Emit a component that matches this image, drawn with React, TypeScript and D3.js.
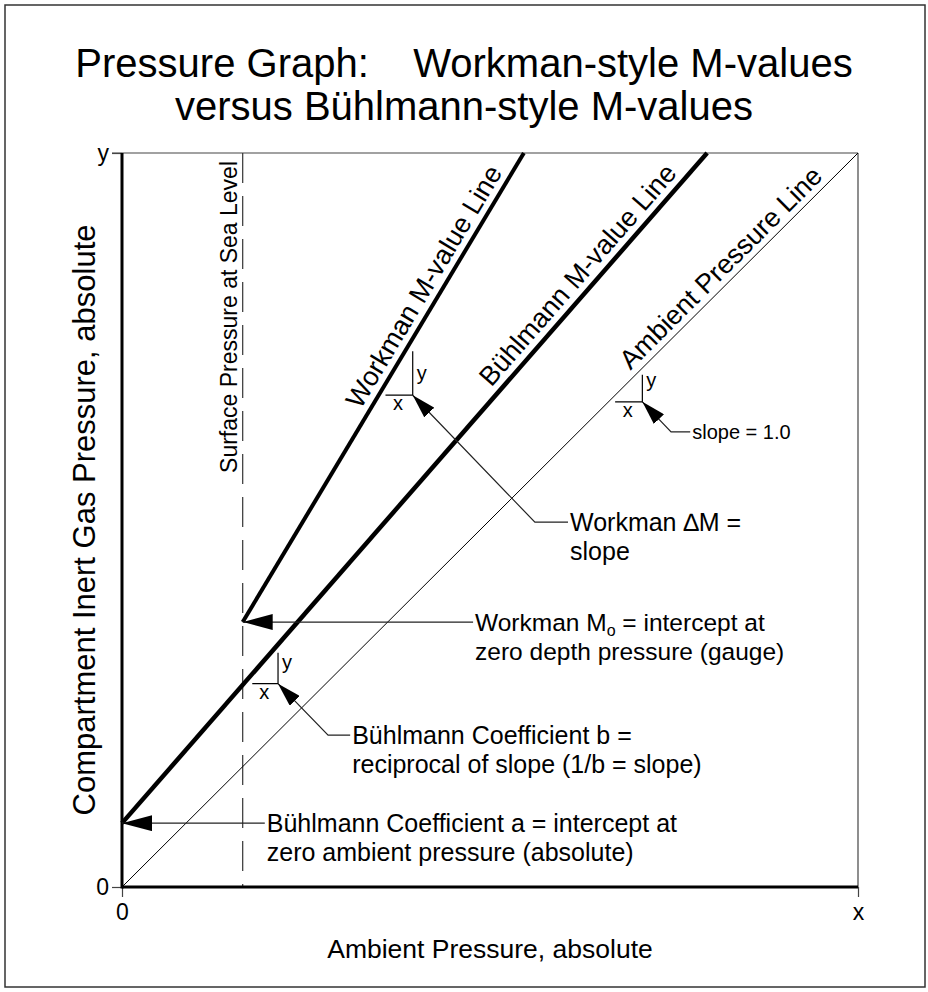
import React, { useEffect, useRef } from "react";
import * as d3 from "d3";

// axis extents (arbitrary pressure units)
const xDomain = [0, 10];
const yDomain = [0, 10];
const xTicks = [0, 10];
const xTickLabels = ["0", "x"];
const yTicks = [0, 10];
const yTickLabels = ["0", "y"];

// surface pressure at sea level (ambient, absolute)
const surfacePressure = 1.64;

// M-value lines, [ambient, compartment]
const workmanLine = [[1.64, 3.61], [5.46, 10]];
const buhlmannLine = [[0, 0.87], [7.95, 10]];
const ambientLine = [[0, 0], [10, 10]];

const lineNames = ["Workman M-value Line", "Bühlmann M-value Line", "Ambient Pressure Line"];
const lineWidths = [4, 4.5, 1];
const labelEndY = [9.68, 9.64, 9.6];

// slope triangles: corner, run, rise
const slopeCorners = [[3.95, 6.7], [2.12, 2.77], [7.07, 6.61]];
const slopeRuns = [0.37, 0.35, 0.37];
const slopeRises = [0.6, 0.42, 0.37];

// callouts: leader points from text end to arrow tip
const calloutPaths = [
  [[6.06, 4.97], [5.61, 4.97], [3.95, 6.7]],
  [[4.77, 3.61], [1.64, 3.61]],
  [[3.1, 2.07], [2.8, 2.07], [2.12, 2.77]],
  [[1.94, 0.87], [0, 0.87]],
  [[7.72, 6.2], [7.46, 6.2], [7.07, 6.61]],
];
const calloutText = [
  ["Workman \u2206M =", "slope"],
  ["Workman M|o| = intercept at", "zero depth pressure (gauge)"],
  ["Bühlmann Coefficient b =", "reciprocal of slope (1/b = slope)"],
  ["Bühlmann Coefficient a = intercept at", "zero ambient pressure (absolute)"],
  ["slope = 1.0"],
];
const calloutFont = [25, 24.5, 25, 25, 20];

const FONT = "'Liberation Sans', Arial, sans-serif";

function Chart() {
  const ref = useRef<SVGSVGElement>(null);

  useEffect(() => {
    const svg = d3.select(ref.current);
    svg.selectAll("*").remove();

    const x = d3.scaleLinear().domain(xDomain).range([122, 858]);
    const y = d3.scaleLinear().domain(yDomain).range([887, 153]);

    svg.attr("font-family", FONT);

    // outer frame
    svg.append("rect")
      .attr("x", 5).attr("y", 5).attr("width", 920).attr("height", 982)
      .attr("fill", "white").attr("stroke", "#333").attr("stroke-width", 1.5);

    // title
    const title = ["Pressure Graph:\u00a0\u00a0\u00a0 Workman-style M-values", "versus Bühlmann-style M-values"];
    svg.append("text")
      .attr("x", 464).attr("y", 77)
      .attr("text-anchor", "middle").attr("font-size", 40)
      .selectAll("tspan").data(title).join("tspan")
      .attr("x", 464).attr("dy", (d, i) => (i === 0 ? 0 : 43))
      .text(d => d);

    const defs = svg.append("defs");
    defs.append("marker")
      .attr("id", "arrowH").attr("viewBox", "0 0 30 16")
      .attr("refX", 30).attr("refY", 8)
      .attr("markerWidth", 30).attr("markerHeight", 16)
      .attr("markerUnits", "userSpaceOnUse").attr("orient", "auto")
      .append("path").attr("d", "M0,0L30,8L0,16Z").attr("fill", "black");
    defs.append("marker")
      .attr("id", "arrowD").attr("viewBox", "0 0 24 14")
      .attr("refX", 24).attr("refY", 7)
      .attr("markerWidth", 24).attr("markerHeight", 14)
      .attr("markerUnits", "userSpaceOnUse").attr("orient", "auto")
      .append("path").attr("d", "M0,0L24,7L0,14Z").attr("fill", "black");

    // plot frame (top + right, thin)
    svg.append("line")
      .attr("x1", x(0) - 10).attr("x2", x(10)).attr("y1", y(10)).attr("y2", y(10))
      .attr("stroke", "#444").attr("stroke-width", 1.2);
    svg.append("line")
      .attr("x1", x(10)).attr("x2", x(10)).attr("y1", y(10)).attr("y2", y(0))
      .attr("stroke", "#444").attr("stroke-width", 1.2);

    // axes ticks + labels
    const xAxis = svg.append("g")
      .attr("transform", `translate(0,${y(0)})`)
      .call(d3.axisBottom(x).tickValues(xTicks).tickSize(10).tickPadding(7)
        .tickFormat((d, i) => xTickLabels[i]));
    const yAxis = svg.append("g")
      .attr("transform", `translate(${x(0)},0)`)
      .call(d3.axisLeft(y).tickValues(yTicks).tickSize(10).tickPadding(3)
        .tickFormat((d, i) => yTickLabels[i]));
    [xAxis, yAxis].forEach(g => {
      g.select(".domain").remove();
      g.selectAll("line").attr("stroke", "#444").attr("stroke-width", 1.2);
      g.selectAll("text").attr("font-size", 23).attr("font-family", FONT).attr("fill", "black");
    });

    // surface pressure dashed line
    svg.append("line")
      .attr("x1", x(surfacePressure)).attr("x2", x(surfacePressure))
      .attr("y1", y(10)).attr("y2", y(0))
      .attr("stroke", "#333").attr("stroke-width", 1.2)
      .attr("stroke-dasharray", "30 13");

    svg.append("text")
      .attr("transform", `translate(${x(surfacePressure) - 6},${y(10) + 8}) rotate(-90)`)
      .attr("text-anchor", "end").attr("font-size", 23)
      .text("Surface Pressure at Sea Level");

    // main lines
    const line = d3.line().x(d => x(d[0])).y(d => y(d[1]));
    const series = [workmanLine, buhlmannLine, ambientLine];
    series.forEach((pts, i) => {
      svg.append("path")
        .attr("d", line(pts as [number, number][]))
        .attr("fill", "none").attr("stroke", "black")
        .attr("stroke-width", lineWidths[i]);

      const [p0, p1] = pts;
      const px0 = x(p0[0]), py0 = y(p0[1]), px1 = x(p1[0]), py1 = y(p1[1]);
      const len = Math.hypot(px1 - px0, py1 - py0);
      const ux = (px1 - px0) / len, uy = (py1 - py0) / len;
      const angle = (Math.atan2(py1 - py0, px1 - px0) * 180) / Math.PI;
      const yd = labelEndY[i];
      const xd = p0[0] + ((yd - p0[1]) * (p1[0] - p0[0])) / (p1[1] - p0[1]);
      const off = 6 + lineWidths[i] / 2;
      const tx = x(xd) + uy * off, ty = y(yd) - ux * off;
      svg.append("text")
        .attr("transform", `translate(${tx},${ty}) rotate(${angle})`)
        .attr("text-anchor", "end").attr("font-size", 27)
        .text(lineNames[i]);
    });

    // axes (thick)
    svg.append("line")
      .attr("x1", x(0)).attr("x2", x(0)).attr("y1", y(10)).attr("y2", y(0) + 1.5)
      .attr("stroke", "black").attr("stroke-width", 3);
    svg.append("line")
      .attr("x1", x(0)).attr("x2", x(10)).attr("y1", y(0)).attr("y2", y(0))
      .attr("stroke", "black").attr("stroke-width", 3);

    // slope triangles
    slopeCorners.forEach((c, i) => {
      const cx = x(c[0]), cy = y(c[1]);
      const lx = x(c[0] - slopeRuns[i]), ty = y(c[1] + slopeRises[i]);
      svg.append("path")
        .attr("d", `M${lx},${cy}L${cx},${cy}L${cx},${ty}`)
        .attr("fill", "none").attr("stroke", "black").attr("stroke-width", 1.2);
      svg.append("text")
        .attr("x", (lx + cx) / 2 - 1).attr("y", cy + 15)
        .attr("text-anchor", "middle").attr("font-size", 20).text("x");
      svg.append("text")
        .attr("x", cx + 4).attr("y", cy - 15)
        .attr("font-size", 20).text("y");
    });

    // callouts
    calloutPaths.forEach((pts, i) => {
      const horizontal = pts.length === 2;
      svg.append("path")
        .attr("d", line(pts as [number, number][]))
        .attr("fill", "none").attr("stroke", "#222").attr("stroke-width", 1.2)
        .attr("marker-end", horizontal ? "url(#arrowH)" : "url(#arrowD)");
      const sx = x(pts[0][0]) + 2, sy = y(pts[0][1]);
      const fs = calloutFont[i];
      const t = svg.append("text")
        .attr("x", sx).attr("y", sy + fs * 0.37)
        .attr("font-size", fs);
      calloutText[i].forEach((ln, j) => {
        const parts = ln.split("|");
        t.append("tspan")
          .attr("x", sx).attr("dy", j === 0 ? 0 : 29)
          .text(parts[0]);
        if (parts.length > 1) {
          t.append("tspan").attr("font-size", 16).attr("dy", 5).text(parts[1]);
          t.append("tspan").attr("dy", -5).text(parts[2]);
        }
      });
    });

    // axis titles
    svg.append("text")
      .attr("transform", `translate(95,${(y(0) + y(10)) / 2}) rotate(-90)`)
      .attr("text-anchor", "middle").attr("font-size", 31)
      .text("Compartment Inert Gas Pressure, absolute");
    svg.append("text")
      .attr("x", (x(0) + x(10)) / 2).attr("y", 958)
      .attr("text-anchor", "middle").attr("font-size", 26.5)
      .text("Ambient Pressure, absolute");
  }, []);

  return <svg ref={ref} width={928} height={992} style={{ display: "block" }} />;
}

export default function App() {
  return (
    <div style={{ position: "absolute", left: 0, top: 0 }}>
      <Chart />
    </div>
  );
}
